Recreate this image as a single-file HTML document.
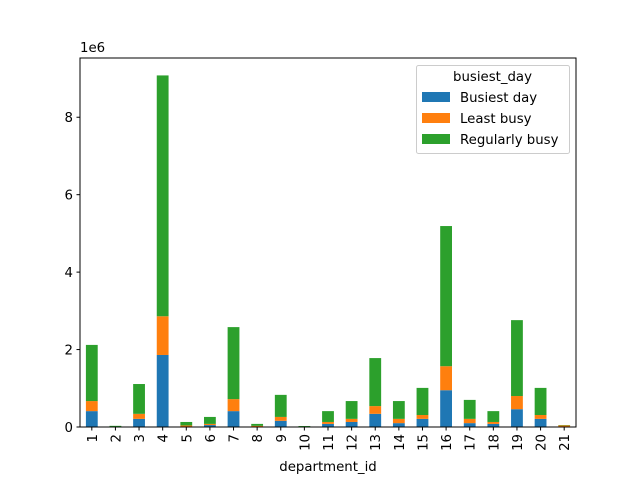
<!DOCTYPE html>
<html><head><meta charset="utf-8"><style>body{margin:0;background:#fff}svg{font-family:"DejaVu Sans","Liberation Sans",sans-serif}</style></head>
<body>
<svg id="c" width="640" height="480" xmlns="http://www.w3.org/2000/svg"></svg>
<script>
const categories=["1","2","3","4","5","6","7","8","9","10","11","12","13","14","15","16","17","18","19","20","21"];
const busiest=[0.41,0.005,0.21,1.86,0.01,0.05,0.41,0.01,0.16,0.005,0.08,0.13,0.34,0.10,0.21,0.95,0.10,0.08,0.46,0.21,0.005];
const least=[0.26,0.005,0.13,1.0,0.03,0.03,0.31,0.02,0.10,0.005,0.05,0.08,0.2,0.11,0.10,0.62,0.11,0.05,0.34,0.10,0.035];
const regular=[1.45,0.02,0.77,6.22,0.09,0.18,1.86,0.05,0.57,0.015,0.28,0.46,1.24,0.46,0.70,3.62,0.49,0.28,1.96,0.70,0.01];
const yTicks=[0,2,4,6,8];
const seriesNames=["Busiest day","Least busy","Regularly busy"];
const colors=["#1f77b4","#ff7f0e","#2ca02c"];
const L=80,R=576,T=58,B=427,yMax=9.53;
const svg=document.getElementById('c');const NS="http://www.w3.org/2000/svg";
function y(v){return B-(v/yMax)*(B-T);}
const step=(R-L)/categories.length;
function x(i){return L+step*(i+0.5);}
function mk(t,a,txt){const e=document.createElementNS(NS,t);for(const k in a)e.setAttribute(k,a[k]);if(txt!==undefined)e.textContent=txt;svg.appendChild(e);return e;}
const series=[busiest,least,regular];
categories.forEach((c,i)=>{let base=0;series.forEach((s,j)=>{const r=mk('rect',{x:x(i)-step/4,y:y(base+s[i]),width:step/2,height:y(base)-y(base+s[i]),fill:colors[j]});


base+=s[i];});
const tk=mk('line',{x1:x(i),x2:x(i),y1:B,y2:B+3.5,stroke:'#000'});


const lb=mk('text',{x:x(i)+5,y:B+7,'font-size':13.3,'text-anchor':'end',transform:`rotate(-90 ${x(i)+5} ${B+7})`},c);


});
yTicks.forEach(v=>{const tk=mk('line',{x1:L-3.5,x2:L,y1:y(v),y2:y(v),stroke:'#000'});


const lb=mk('text',{x:L-7,y:y(v)+5,'font-size':13.3,'text-anchor':'end'},String(v));

});
</script>
<svg width="640" height="480" style="position:absolute;left:0;top:0" xmlns="http://www.w3.org/2000/svg">
<rect x="80" y="58" width="496" height="369" fill="none" stroke="#000" stroke-width="1"/>
<text x="80" y="52" font-size="13.3">1e6</text>
<text x="328" y="471" font-size="13.3" text-anchor="middle">department_id</text>
<g>
<rect x="416.5" y="65.5" width="153" height="88" rx="2" fill="#fff" fill-opacity="0.8" stroke="#ccc"/>
<text x="492.5" y="81" font-size="13.3" text-anchor="middle">busiest_day</text>
<rect x="422" y="92" width="28" height="10" fill="#1f77b4"/>
<text x="460" y="102" font-size="13.3">Busiest day</text>
<rect x="422" y="113" width="28" height="10" fill="#ff7f0e"/>
<text x="460" y="123" font-size="13.3">Least busy</text>
<rect x="422" y="134" width="28" height="10" fill="#2ca02c"/>
<text x="460" y="144" font-size="13.3">Regularly busy</text>
</g>
</svg>
</body></html>
